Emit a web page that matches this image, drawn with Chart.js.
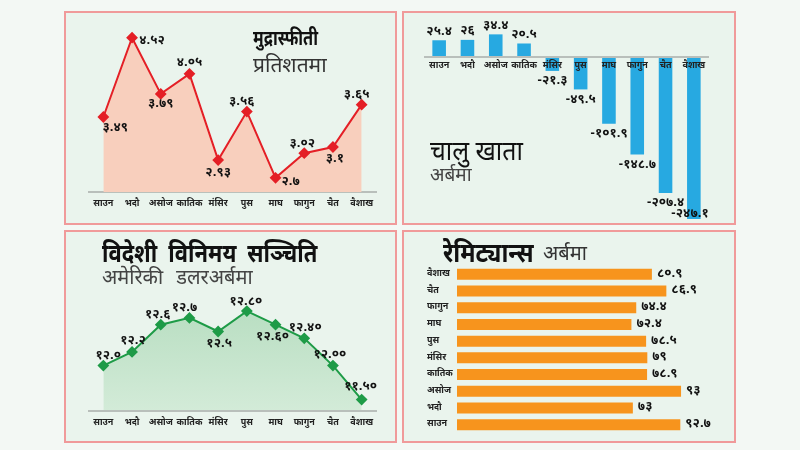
<!DOCTYPE html>
<html>
<head>
<meta charset="utf-8">
<script src="https://cdn.jsdelivr.net/npm/chart.js@4.4.1/dist/chart.umd.min.js"></script>
<style>
  html, body { margin:0; padding:0; }
  body { width:800px; height:450px; background:#f3f8f4; position:relative; overflow:hidden;
         font-family:'Noto Sans Devanagari','Lohit Devanagari','Noto Sans','DejaVu Sans',sans-serif; }
  .panel { position:absolute; box-sizing:border-box; border:2px solid #f09a9a; background:#eaf4ed; }
  canvas { position:absolute; }
  .t { position:absolute; line-height:1; white-space:nowrap; transform-origin:0 50%; }
</style>
</head>
<body>
<div class="panel" style="left:64px;top:11px;width:333px;height:214px"></div>
<div class="panel" style="left:402px;top:11px;width:334px;height:214px"></div>
<div class="panel" style="left:64px;top:230px;width:333px;height:213px"></div>
<div class="panel" style="left:402px;top:230px;width:334px;height:213px"></div>

<canvas id="c1" width="333" height="214" style="left:64px;top:11px"></canvas>
<canvas id="c2" width="334" height="214" style="left:402px;top:11px"></canvas>
<canvas id="c3" width="333" height="213" style="left:64px;top:230px"></canvas>
<canvas id="c4" width="334" height="213" style="left:402px;top:230px"></canvas>

<div class="t" style="left:253px;top:30px;font-size:21px;font-weight:bold;color:#111;transform:scaleX(0.78)">मुद्रास्फीती</div>
<div class="t" style="left:253px;top:57px;font-size:21px;color:#333">प्रतिशतमा</div>
<div class="t" style="left:430px;top:140px;font-size:27px;color:#111;transform:scaleX(0.92)">चालु खाता</div>
<div class="t" style="left:430px;top:167px;font-size:19px;color:#444">अर्बमा</div>
<div class="t" style="left:102px;top:244px;font-size:25px;font-weight:bold;color:#111;word-spacing:6px;transform:scaleX(0.88)">विदेशी विनिमय सञ्चिति</div>
<div class="t" style="left:102px;top:269px;font-size:20px;color:#444;word-spacing:8px">अमेरिकी डलरअर्बमा</div>
<div class="t" style="left:443px;top:242px;font-size:27px;font-weight:bold;color:#111;transform:scaleX(0.87)">रेमिट्यान्स</div>
<div class="t" style="left:543px;top:245px;font-size:20px;color:#333">अर्बमा</div>

<script>
// ---------- data ----------
const months = ['साउन','भदौ','असोज','कातिक','मंसिर','पुस','माघ','फागुन','चैत','वैशाख'];

const inflation = [3.49, 4.52, 3.79, 4.05, 2.93, 3.56, 2.7, 3.02, 3.1, 3.65];
const inflationDecimals = [2, 2, 2, 2, 2, 2, 1, 2, 1, 2];

const currentAccount = [25.4, 26, 34.4, 20.5, -21.3, -49.5, -101.9, -148.7, -207.4, -247.1];
const currentAccountDecimals = [1, 0, 1, 1, 1, 1, 1, 1, 1, 1];

const reserves = [12.0, 12.2, 12.6, 12.7, 12.5, 12.8, 12.6, 12.4, 12.0, 11.5];
const reservesDecimals = [1, 1, 1, 1, 1, 2, 2, 2, 2, 2];

const remittance = [92.7, 73, 93, 78.9, 79, 78.5, 72.4, 74.4, 86.9, 80.9];
const remittanceDecimals = [1, 0, 0, 1, 0, 1, 1, 1, 1, 1];

// ---------- helpers ----------
const DEV = '०१२३४५६७८९';
const dev = s => String(s).replace(/[0-9]/g, d => DEV[+d]);
const fmt = (v, d) => dev(v.toFixed(d));
const FONT = "'Noto Sans Devanagari','Lohit Devanagari','Noto Sans','DejaVu Sans',sans-serif";

// label placement (style only, relative to each mark's value end)
const labelCfg = {
  c1: { texts: inflation.map((v,i)=>fmt(v, inflationDecimals[i])), align:'center',
        offsets: [[12,12],[20,4],[0,11],[0,-10],[0,13],[-5,-9],[15,5],[-2,-9],[2,13],[-5,-9]] },
  c2: { texts: currentAccount.map((v,i)=>fmt(v, currentAccountDecimals[i])), align:'center',
        offsets: currentAccount.map((v,i)=> i===currentAccount.length-1 ? [-4,-5] : (v>=0 ? [0,-8] : [0,11])) },
  c3: { texts: reserves.map((v,i)=>fmt(v, reservesDecimals[i])), align:'center',
        offsets: [[5,-9],[1,-10],[-3,-9],[-5,-9],[1,13],[-1,-9],[-3,13],[1,-10],[-3,-10],[-1,-12]] },
  c4: { texts: remittance.map((v,i)=>fmt(v, remittanceDecimals[i])), align:'left',
        offsets: remittance.map(()=>[5,0]) }
};

const valueLabels = {
  id: 'valueLabels',
  afterDatasetsDraw(chart) {
    const cfg = labelCfg[chart.canvas.id];
    if (!cfg) return;
    const ctx = chart.ctx;
    const meta = chart.getDatasetMeta(0);
    ctx.save();
    ctx.font = "bold 13px " + FONT;
    ctx.fillStyle = '#111';
    ctx.textAlign = cfg.align;
    ctx.textBaseline = 'middle';
    meta.data.forEach((el, i) => {
      const o = cfg.offsets[i];
      ctx.fillText(cfg.texts[i], el.x + o[0], el.y + o[1]);
    });
    ctx.restore();
  }
};
Chart.register(valueLabels);

Chart.defaults.font.family = FONT;
Chart.defaults.animation = false;
Chart.defaults.responsive = false;
Chart.defaults.plugins.legend.display = false;
Chart.defaults.plugins.tooltip.enabled = false;

const tickFont = { size: 9, weight: 'bold' };
const axisLine = { display: true, color: '#b9bfbb', width: 2 };

function xCat() {
  return {
    type: 'category', offset: true,
    grid: { display: false, drawTicks: false },
    border: axisLine,
    ticks: { font: tickFont, color: '#222', padding: 7, maxRotation: 0, autoSkip: false }
  };
}

// ---------- 1. inflation ----------
new Chart(document.getElementById('c1'), {
  type: 'line',
  data: { labels: months, datasets: [{
    data: inflation, borderColor: '#e41f26', borderWidth: 2,
    backgroundColor: '#f8cfbd', fill: 'start', tension: 0,
    pointStyle: 'rectRot', pointRadius: 4.5, pointBackgroundColor: '#e41f26', pointBorderColor: '#e41f26'
  }]},
  options: {
    layout: { padding: { left: 25, right: 21, top: 0, bottom: 8 } },
    scales: {
      x: xCat(),
      y: { display: false, min: 2.513, max: 4.782 }
    }
  }
});

// ---------- 2. current account ----------
const x2 = xCat();
x2.position = { y: 0 };
x2.ticks.padding = 4;
x2.ticks.z = 1;
x2.border.z = 1;
new Chart(document.getElementById('c2'), {
  type: 'bar',
  data: { labels: months, datasets: [{
    data: currentAccount, backgroundColor: '#27a9e1',
    barPercentage: 0.48, categoryPercentage: 1
  }]},
  options: {
    layout: { padding: { left: 23, right: 28, top: 0, bottom: 4 } },
    scales: {
      x: x2,
      y: { display: false, min: -250, max: 70 }
    }
  }
});

// ---------- 3. reserves ----------
new Chart(document.getElementById('c3'), {
  type: 'line',
  data: { labels: months, datasets: [{
    data: reserves, borderColor: '#1e9b47', borderWidth: 2,
    backgroundColor: (ctx) => {
      const a = ctx.chart.chartArea;
      if (!a) return '#bfe2c7';
      const g = ctx.chart.ctx.createLinearGradient(0, a.top, 0, a.bottom);
      g.addColorStop(0, '#acd8b7');
      g.addColorStop(1, '#d3ebd8');
      return g;
    },
    fill: 'start', tension: 0,
    pointStyle: 'rectRot', pointRadius: 4.5, pointBackgroundColor: '#1e9b47', pointBorderColor: '#1e9b47'
  }]},
  options: {
    layout: { padding: { left: 25, right: 21, top: 30, bottom: 7 } },
    scales: {
      x: xCat(),
      y: { display: false, min: 11.33, max: 13.55 }
    }
  }
});

// ---------- 4. remittance ----------
new Chart(document.getElementById('c4'), {
  type: 'bar',
  data: { labels: months, datasets: [{
    data: remittance, backgroundColor: '#f7941d',
    barPercentage: 0.66, categoryPercentage: 1
  }]},
  options: {
    indexAxis: 'y',
    layout: { padding: { left: 25, right: 14, top: 36, bottom: 10 } },
    scales: {
      x: { display: false, min: 0, max: 110 },
      y: {
        reverse: true,
        grid: { display: false, drawTicks: false },
        border: { display: false },
        ticks: { font: tickFont, color: '#222', padding: 0, crossAlign: 'far', autoSkip: false },
        afterFit(scale) { scale.width = 30; }
      }
    }
  }
});
</script>
</body>
</html>
